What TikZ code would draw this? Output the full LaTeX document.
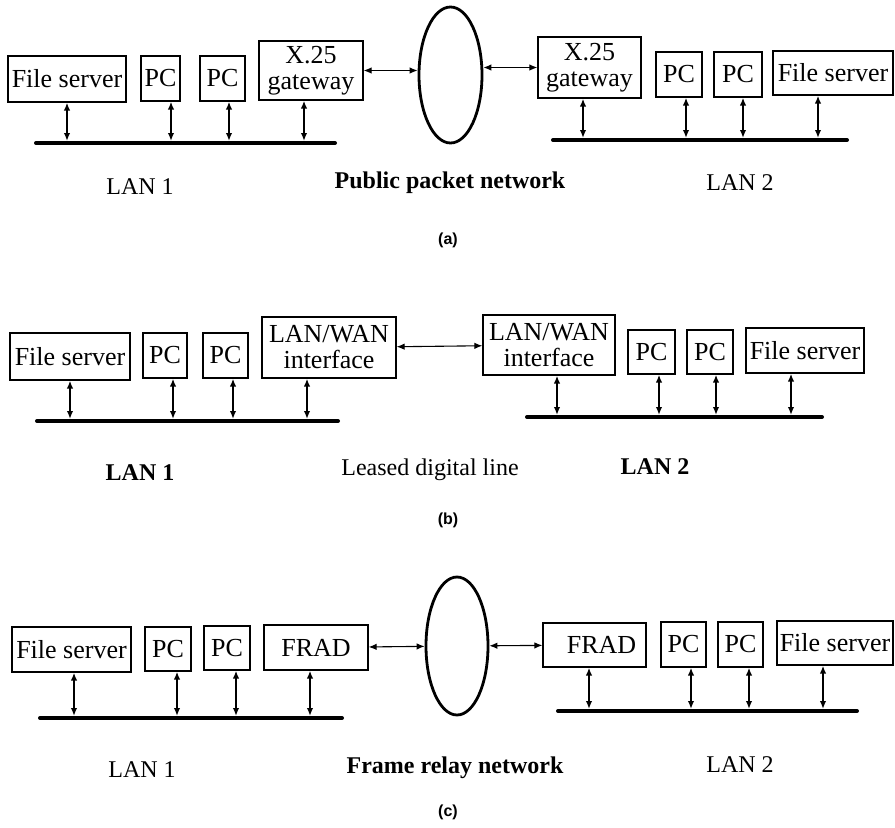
\documentclass[tikz,border=0pt]{standalone}
\usepackage{fontspec}
\setmainfont{Liberation Serif}
\setsansfont{Liberation Sans}
\usetikzlibrary{arrows.meta,shapes.geometric}

\tikzset{
  box/.style={draw,line width=1.3pt,inner sep=0pt,align=center,
    font=\fontsize{26}{26}\selectfont},
  net/.style={ellipse,draw,line width=2.8pt,inner sep=0pt},
  bus/.style={line width=4pt,line cap=round},
  tap/.style={<->,line width=1.6pt},
  wan/.style={<->,line width=1.1pt},
  lbl/.style={font=\fontsize{24}{26}\selectfont},
  captxt/.style={font=\sffamily\bfseries\fontsize{16}{18}\selectfont}
}

\begin{document}
\begin{tikzpicture}[x=1pt,y=-1pt,>={Latex[length=8pt,width=6.5pt]}]
\useasboundingbox (0,0) rectangle (895,828);
% ---------- (a) ----------
\node[box,minimum width=118pt,minimum height=46pt] (fsA) at (67,79) {File server};
\node[box,minimum width=39pt,minimum height=45pt] (pcA1) at (160.5,78.5) {PC};
\node[box,minimum width=45pt,minimum height=45pt] (pcA2) at (222.5,78.5) {PC};
\node[box,minimum width=104pt,minimum height=59pt] (gwA) at (311,70.5) {X.25\\gateway};
\node[net,minimum width=63pt,minimum height=136pt] (netA) at (450.5,75) {};
\node[box,minimum width=103pt,minimum height=61pt] (gwB) at (589.5,67.5) {X.25\\gateway};
\node[box,minimum width=46pt,minimum height=45pt] (pcB1) at (679,74.5) {PC};
\node[box,minimum width=48pt,minimum height=45pt] (pcB2) at (738,74.5) {PC};
\node[box,minimum width=120pt,minimum height=44pt] (fsB) at (833,73) {File server};
\draw[bus] (36,143) -- (335,143);
\draw[bus] (553,140) -- (847,140);
\foreach \n/\x in {fsA/67,pcA1/171,pcA2/229,gwA/304}
  \draw[tap] (\n.south -| \x,0) -- (\x,141);
\foreach \n/\x in {gwB/583,pcB1/686,pcB2/743,fsB/818}
  \draw[tap] (\n.south -| \x,0) -- (\x,138);
\draw[wan] (gwA.east) -- (gwA.east -| netA.west);
\draw[wan] (netA.east |- gwB.west) -- (gwB.west);
\node[lbl] (lanA1) at (140,187) {LAN 1};
\node[lbl] (pubA) at (450,183) {\textbf{Public packet network}};
\node[lbl] (lanA2) at (740,183) {LAN 2};
\node[captxt] (capA) at (448,240) {(a)};
% ---------- (b) ----------
\node[box,minimum width=120pt,minimum height=47pt] (fsC) at (70,356.5) {File server};
\node[box,minimum width=44pt,minimum height=45pt] (pcC1) at (165,355.5) {PC};
\node[box,minimum width=45pt,minimum height=45pt] (pcC2) at (225.5,355.5) {PC};
\node[box,minimum width=134pt,minimum height=61pt] (ifC) at (329,347.5) {LAN/WAN\\interface};
\node[box,minimum width=132pt,minimum height=60pt] (ifD) at (549,345) {LAN/WAN\\interface};
\node[box,minimum width=47pt,minimum height=44pt] (pcD1) at (651.5,352) {PC};
\node[box,minimum width=46pt,minimum height=44pt] (pcD2) at (710,352) {PC};
\node[box,minimum width=118pt,minimum height=45pt] (fsD) at (805,350.5) {File server};
\draw[bus] (37,421) -- (338,421);
\draw[bus] (527,417) -- (822,417);
\foreach \n/\x in {fsC/70,pcC1/173,pcC2/233,ifC/307}
  \draw[tap] (\n.south -| \x,0) -- (\x,419);
\foreach \n/\x in {ifD/557,pcD1/659,pcD2/716,fsD/791}
  \draw[tap] (\n.south -| \x,0) -- (\x,415);
\draw[wan] (ifC) -- (ifD);
\node[lbl] (lanC1) at (140,473) {\textbf{LAN 1}};
\node[lbl] (lineC) at (430,470) {Leased digital line};
\node[lbl] (lanC2) at (655,467) {\textbf{LAN 2}};
\node[captxt] (capB) at (448,520) {(b)};
% ---------- (c) ----------
\node[box,minimum width=119pt,minimum height=45pt] (fsE) at (71.5,649.5) {File server};
\node[box,minimum width=46pt,minimum height=44pt] (pcE1) at (168,649) {PC};
\node[box,minimum width=46pt,minimum height=44pt] (pcE2) at (227,648) {PC};
\node[box,minimum width=104pt,minimum height=45pt] (frE) at (316,647.5) {FRAD};
\node[net,minimum width=62pt,minimum height=138pt] (netE) at (457,646) {};
\node[box,minimum width=103pt,minimum height=44pt] (frF) at (594.5,645) {\hspace*{14pt}FRAD};
\node[box,minimum width=45pt,minimum height=45pt] (pcF1) at (683.5,644.5) {PC};
\node[box,minimum width=45pt,minimum height=45pt] (pcF2) at (740.5,644.5) {PC};
\node[box,minimum width=116pt,minimum height=44pt] (fsF) at (835,643) {File server};
\draw[bus] (40,718) -- (342,718);
\draw[bus] (558,711) -- (857,711);
\foreach \n/\x in {fsE/74,pcE1/177,pcE2/236,frE/310}
  \draw[tap] (\n.south -| \x,0) -- (\x,716);
\foreach \n/\x in {frF/589,pcF1/691,pcF2/749,fsF/823}
  \draw[tap] (\n.south -| \x,0) -- (\x,709);
\draw[wan] (frE) -- (netE);
\draw[wan] (netE) -- (frF);
\node[lbl] (lanE1) at (142,770) {LAN 1};
\node[lbl] (relE) at (455,768) {\textbf{Frame relay network}};
\node[lbl] (lanE2) at (740,765) {LAN 2};
\node[captxt] (capC) at (448,812) {(c)};
\end{tikzpicture}
\end{document}
